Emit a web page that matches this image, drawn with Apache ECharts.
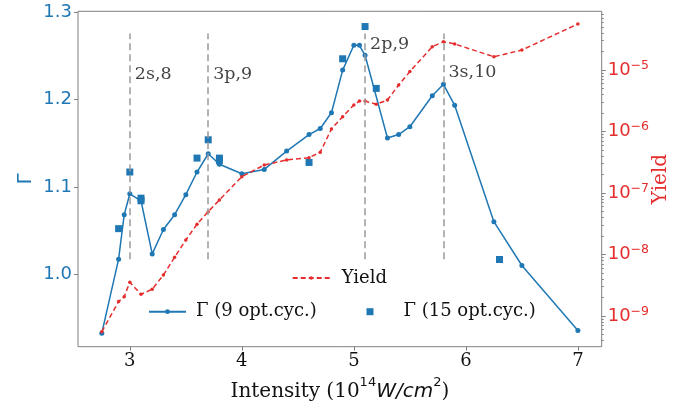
<!DOCTYPE html>
<html><head><meta charset="utf-8">
<script src="https://cdn.jsdelivr.net/npm/echarts@6/dist/echarts.min.js"></script>
<style>html,body{margin:0;padding:0;background:#fff}#c{width:680px;height:405px}</style>
</head><body><div id="c"></div>
<script>
// ---- data ----
const gamma9X = [2.75,2.9,2.95,3.0,3.1,3.2,3.3,3.4,3.5,3.6,3.7,3.8,4.0,4.2,4.4,4.6,4.7,4.8,4.9,5.0,5.05,5.1,5.3,5.4,5.5,5.7,5.8,5.9,6.25,6.5,7.0];
const gamma9 = [0.932,1.017,1.068,1.092,1.084,1.023,1.051,1.068,1.091,1.117,1.138,1.126,1.115,1.120,1.141,1.160,1.167,1.185,1.234,1.2625,1.2625,1.251,1.156,1.160,1.169,1.2046,1.2177,1.1936,1.060,1.0097,0.935];
const gamma15X = [2.9,3.0,3.1,3.1,3.6,3.7,3.8,3.8,4.6,4.9,5.1,5.2,6.3];
const gamma15 = [1.052,1.117,1.087,1.084,1.133,1.154,1.133,1.130,1.128,1.247,1.284,1.213,1.0166];
const yieldX = [2.75,2.9,2.95,3.0,3.1,3.2,3.3,3.4,3.5,3.6,3.7,3.8,4.0,4.2,4.4,4.6,4.7,4.8,4.9,5.0,5.05,5.1,5.2,5.3,5.4,5.5,5.7,5.8,5.9,6.25,6.5,7.0];
const yieldVals = [5.56e-10,1.71e-9,2.06e-9,3.53e-9,2.25e-9,2.72e-9,4.65e-9,8.99e-9,1.72e-8,3.10e-8,4.97e-8,7.69e-8,1.84e-7,2.85e-7,3.44e-7,3.75e-7,4.59e-7,1.10e-6,1.74e-6,2.70e-6,3.13e-6,3.13e-6,2.77e-6,3.25e-6,5.70e-6,9.40e-6,2.39e-5,2.88e-5,2.65e-5,1.64e-5,2.11e-5,5.60e-5];
const xTicks = [3,4,5,6,7];
const gammaTicks = [1.0,1.1,1.2,1.3];
const yieldTickExps = [-9,-8,-7,-6,-5];
const annotX = [3.0,3.7,5.1,5.8];
const annotLabels = ['2s,8','3p,9','2p,9','3s,10'];
const annotY = [1.2295,1.2295,1.2629,1.231];
const vlineRange = [1.017,1.276];

// ---- build ----
const BLUE = '#1f77b4', RED = '#e52d2d', SPINE = '#808080', INK = '#111';
const SERIF = 'DejaVu Serif', SANS = 'DejaVu Sans';
const yMinLog = -9.5, yMaxLog = -4.046;
const minorLog = [];
for (let n = -10; n <= -4; n++) for (let k = 2; k <= 9; k++) {
  const v = n + Math.log10(k);
  if (v > yMinLog && v < yMaxLog) minorLog.push(v);
}
const chart = echarts.init(document.getElementById('c'), null, {renderer: 'canvas'});
const lbl9 = 'Γ (9 opt.cyc.)', lbl15 = 'Γ (15 opt.cyc.)';
chart.setOption({
  animation: false,
  backgroundColor: '#fff',
  grid: {left: 78, right: 78.3, top: 11.3, bottom: 58.3, show: true, borderColor: SPINE, borderWidth: 1,
         backgroundColor: 'transparent', containLabel: false, outerBoundsMode: 'none'},
  legend: [
    {data: ['Yield'], left: 291.7, top: 269, itemWidth: 37, itemHeight: 4.5, padding: 0,
     textStyle: {fontFamily: SERIF, fontSize: 18, color: INK, lineHeight: 18, padding: [0,0,0,7]}},
    {data: [lbl9], left: 148, top: 302.7, itemWidth: 37, itemHeight: 6, padding: 0,
     textStyle: {fontFamily: SERIF, fontSize: 18, color: INK, lineHeight: 18, padding: [0,0,0,5]}},
    {data: [lbl15], left: 366.5, top: 302.7, itemWidth: 7, itemHeight: 7, padding: 0,
     textStyle: {fontFamily: SERIF, fontSize: 18, color: INK, lineHeight: 18, padding: [0,0,0,25]}}
  ],
  xAxis: {
    type: 'value', min: 2.5375, max: 7.2125,
    axisLine: {show: false}, splitLine: {show: false},
    axisTick: {show: true, length: 4, lineStyle: {color: SPINE}, customValues: xTicks},
    axisLabel: {customValues: xTicks, fontFamily: SERIF, fontSize: 18, color: INK, margin: 6},
    name: '{s|Intensity (10}{p|14}{i|W/cm}{p|2}{s|)}', nameLocation: 'middle', nameGap: 29,
    nameMoveOverlap: false,
    nameTextStyle: {fontFamily: SERIF, fontSize: 20, color: INK,
      rich: {s: {fontFamily: SERIF, fontSize: 20, color: INK, verticalAlign: 'bottom', lineHeight: 26},
             p: {fontFamily: SANS, fontSize: 13, color: INK, verticalAlign: 'top', lineHeight: 15},
             i: {fontFamily: SANS, fontStyle: 'italic', fontSize: 20, color: INK, verticalAlign: 'bottom', lineHeight: 26}}}
  },
  yAxis: [
    {type: 'value', position: 'left', min: 0.9165, max: 1.3015,
     axisLine: {show: false}, splitLine: {show: false},
     axisTick: {show: true, length: 4, lineStyle: {color: SPINE}, customValues: gammaTicks},
     axisLabel: {customValues: gammaTicks, fontFamily: SANS, fontSize: 18, color: BLUE, margin: 6,
       formatter: v => v.toFixed(1)},
     name: 'Γ', nameLocation: 'middle', nameRotate: 90, nameGap: 42, nameMoveOverlap: false,
     nameTextStyle: {fontFamily: SANS, fontSize: 20, color: BLUE}},
    {type: 'value', position: 'right', min: yMinLog, max: yMaxLog,
     axisLine: {show: false}, splitLine: {show: false},
     axisTick: {show: true, length: 4, lineStyle: {color: SPINE}, customValues: yieldTickExps},
     axisLabel: {customValues: yieldTickExps, margin: 6,
       formatter: v => '{b|10}{s|−' + Math.abs(Math.round(v)) + '}',
       rich: {b: {fontFamily: SANS, fontSize: 18, color: RED},
              s: {fontFamily: SANS, fontSize: 12.5, color: RED, verticalAlign: 'top', padding: [0,0,9,0]}}},
     name: 'Yield', nameLocation: 'middle', nameRotate: 90, nameGap: 49, nameMoveOverlap: false,
     nameTextStyle: {fontFamily: SERIF, fontSize: 20, color: RED}},
    {type: 'value', position: 'right', min: yMinLog, max: yMaxLog,
     axisLine: {show: false}, splitLine: {show: false},
     axisTick: {show: true, length: 2, lineStyle: {color: SPINE}, customValues: minorLog},
     axisLabel: {show: false}}
  ],
  series: [
    {name: 'annot', type: 'scatter', yAxisIndex: 0, symbolSize: 0, silent: true, z: 1,
     data: annotX.map((x, i) => ({value: [x, annotY[i]], name: annotLabels[i]})),
     label: {show: true, position: 'right', distance: 5, formatter: p => p.name,
       fontFamily: SERIF, fontSize: 17.5, color: INK},
     markLine: {silent: true, symbol: 'none', label: {show: false},
       lineStyle: {color: '#9a9a9a', width: 1.5, type: [7, 4]},
       data: annotX.map(x => [{coord: [x, vlineRange[0]]}, {coord: [x, vlineRange[1]]}])}},
    {name: lbl9, type: 'line', yAxisIndex: 0, z: 3,
     data: gamma9X.map((x, i) => [x, gamma9[i]]),
     symbol: 'circle', symbolSize: 5, showSymbol: true,
     lineStyle: {color: BLUE, width: 1.5}, itemStyle: {color: BLUE}},
    {name: lbl15, type: 'scatter', yAxisIndex: 0, z: 3,
     data: gamma15X.map((x, i) => [x, gamma15[i]]),
     symbol: 'rect', symbolSize: 7, itemStyle: {color: BLUE, opacity: 1}},
    {name: 'Yield', type: 'line', yAxisIndex: 1, z: 4,
     data: yieldX.map((x, i) => [x, Math.log10(yieldVals[i])]),
     symbol: 'circle', symbolSize: 3.5, showSymbol: true,
     lineStyle: {color: RED, width: 1.5, type: [5, 3]}, itemStyle: {color: RED}}
  ]
});
</script></body></html>
